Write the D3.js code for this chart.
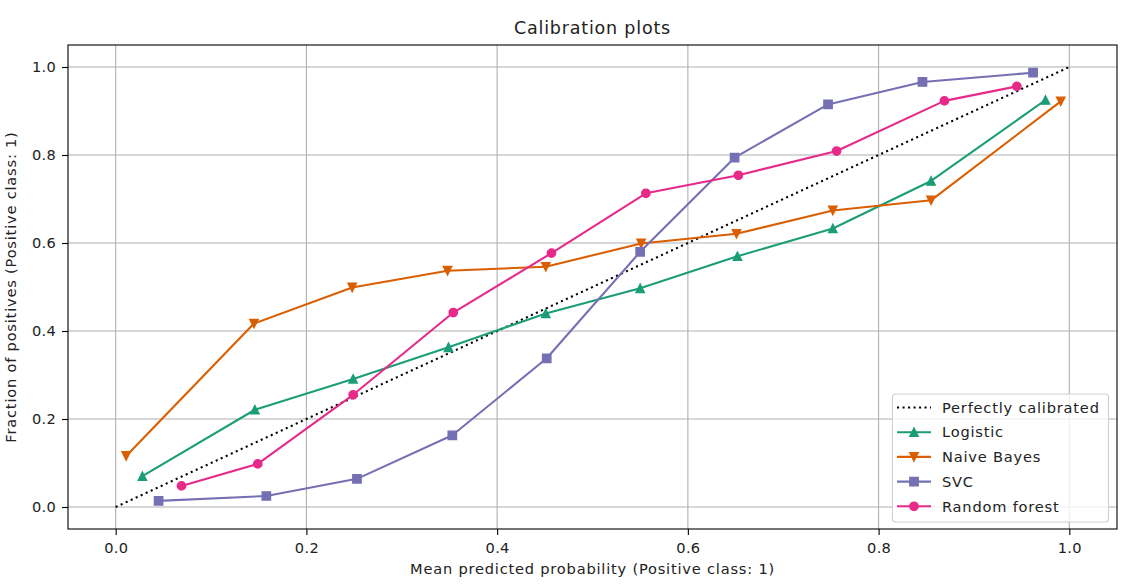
<!DOCTYPE html>
<html>
<head>
<meta charset="utf-8">
<script src="https://cdn.jsdelivr.net/npm/d3@7"></script>
<style>
  html, body { margin: 0; padding: 0; background: #fff; }
  svg { display: block; font-family: "DejaVu Sans", sans-serif; }
</style>
</head>
<body>
<svg id="chart" width="1129" height="586"></svg>
<script>
const xTicks = [0.0, 0.2, 0.4, 0.6, 0.8, 1.0];
const yTicks = [0.0, 0.2, 0.4, 0.6, 0.8, 1.0];
const tickLabels = ["0.0", "0.2", "0.4", "0.6", "0.8", "1.0"];

const perfectX = [0, 1];
const perfectY = [0, 1];

const logisticX = [0.028, 0.146, 0.249, 0.349, 0.451, 0.550, 0.652, 0.752, 0.855, 0.975];
const logisticY = [0.070, 0.221, 0.291, 0.363, 0.440, 0.497, 0.570, 0.633, 0.741, 0.925];

const nbX = [0.011, 0.145, 0.248, 0.348, 0.451, 0.551, 0.651, 0.752, 0.855, 0.991];
const nbY = [0.116, 0.417, 0.499, 0.537, 0.546, 0.599, 0.621, 0.674, 0.697, 0.922];

const svcX = [0.045, 0.158, 0.253, 0.353, 0.452, 0.550, 0.649, 0.747, 0.846, 0.962];
const svcY = [0.014, 0.025, 0.064, 0.163, 0.338, 0.580, 0.794, 0.915, 0.966, 0.987];

const rfX = [0.069, 0.149, 0.249, 0.354, 0.457, 0.556, 0.653, 0.756, 0.869, 0.945];
const rfY = [0.048, 0.098, 0.255, 0.442, 0.577, 0.713, 0.754, 0.809, 0.923, 0.956];

const seriesNames = ["Logistic", "Naive Bayes", "SVC", "Random forest"];
const seriesColors = ["#1b9e77", "#d95f02", "#7570b3", "#e7298a"];
const seriesMarkers = ["tri-up", "tri-down", "square", "circle"];
const seriesX = [logisticX, nbX, svcX, rfX];
const seriesY = [logisticY, nbY, svcY, rfY];

const title = "Calibration plots";
const xLabel = "Mean predicted probability (Positive class: 1)";
const yLabel = "Fraction of positives (Positive class: 1)";
const perfectLabel = "Perfectly calibrated";

const svg = d3.select("#chart");
const L = 68, R = 1117, T = 45, B = 529;
const x = d3.scaleLinear().domain([-0.05, 1.05]).range([L, R]);
const y = d3.scaleLinear().domain([-0.05, 1.05]).range([B, T]);

const fs = 14.6;
const ls = "0.8px";

// grid
const g = svg.append("g");
g.selectAll("line.gx").data(xTicks).enter().append("line")
  .attr("x1", d => x(d)).attr("x2", d => x(d)).attr("y1", T).attr("y2", B)
  .attr("stroke", "#b0b0b0").attr("stroke-width", 1.1);
g.selectAll("line.gy").data(yTicks).enter().append("line")
  .attr("y1", d => y(d)).attr("y2", d => y(d)).attr("x1", L).attr("x2", R)
  .attr("stroke", "#b0b0b0").attr("stroke-width", 1.1);

// axes
const xAxis = d3.axisBottom(x).tickValues(xTicks).tickFormat((d, i) => tickLabels[i]).tickSize(6).tickPadding(8);
const yAxis = d3.axisLeft(y).tickValues(yTicks).tickFormat((d, i) => tickLabels[i]).tickSize(6).tickPadding(6);
const gx = svg.append("g").attr("transform", `translate(0,${B})`).call(xAxis);
const gy = svg.append("g").attr("transform", `translate(${L},0)`).call(yAxis);
[gx, gy].forEach(a => {
  a.select(".domain").remove();
  a.selectAll(".tick line").attr("stroke", "#000").attr("stroke-width", 1.1);
  a.selectAll(".tick text").attr("font-size", fs).attr("fill", "#222").attr("font-family", "DejaVu Sans")
    .attr("letter-spacing", "0.3px");
});

// clip
svg.append("clipPath").attr("id", "clip").append("rect")
  .attr("x", L).attr("y", T).attr("width", R - L).attr("height", B - T);

const plot = svg.append("g").attr("clip-path", "url(#clip)");
const line = d3.line().x(d => x(d[0])).y(d => y(d[1]));

plot.append("path").datum(perfectX.map((v, i) => [v, perfectY[i]]))
  .attr("d", line).attr("fill", "none").attr("stroke", "#000").attr("stroke-width", 2.08)
  .attr("stroke-dasharray", "2.08,3.43");

function markerPath(type, s) {
  const h = s / 2;
  if (type === "tri-up") return `M0,${-h}L${-h},${h}L${h},${h}Z`;
  if (type === "tri-down") return `M0,${h}L${-h},${-h}L${h},${-h}Z`;
  if (type === "square") return `M${-h},${-h}H${h}V${h}H${-h}Z`;
  return d3.symbol(d3.symbolCircle, Math.PI * h * h)();
}
const ms = 8.33;

seriesNames.forEach((name, k) => {
  const pts = seriesX[k].map((v, i) => [v, seriesY[k][i]]);
  plot.append("path").datum(pts).attr("d", line).attr("fill", "none")
    .attr("stroke", seriesColors[k]).attr("stroke-width", 2.08).attr("stroke-linejoin", "round");
  plot.selectAll(null).data(pts).enter().append("path")
    .attr("transform", d => `translate(${x(d[0])},${y(d[1])})`)
    .attr("d", markerPath(seriesMarkers[k], ms))
    .attr("fill", seriesColors[k]).attr("stroke", seriesColors[k]).attr("stroke-width", 1.39)
    .attr("stroke-linejoin", "miter");
});

// spines
svg.append("rect").attr("x", L).attr("y", T).attr("width", R - L).attr("height", B - T)
  .attr("fill", "none").attr("stroke", "#000").attr("stroke-width", 1.1);

// title & labels
svg.append("text").attr("x", (L + R) / 2).attr("y", 33.5).attr("text-anchor", "middle")
  .attr("font-size", 17.5).attr("letter-spacing", ls).attr("fill", "#222").text(title);
svg.append("text").attr("x", (L + R) / 2).attr("y", 573.5).attr("text-anchor", "middle")
  .attr("font-size", fs).attr("letter-spacing", ls).attr("fill", "#222").text(xLabel);
svg.append("text").attr("transform", `translate(15.5,${(T + B) / 2}) rotate(-90)`)
  .attr("text-anchor", "middle").attr("font-size", fs).attr("letter-spacing", ls).attr("fill", "#222").text(yLabel);

// legend
const lg = svg.append("g");
lg.append("rect").attr("x", 892.5).attr("y", 394).attr("width", 216).attr("height", 128)
  .attr("rx", 3).attr("fill", "#fff").attr("fill-opacity", 0.8)
  .attr("stroke", "#d0d0d0").attr("stroke-width", 1.1);
const entries = [{ name: perfectLabel, color: "#000", marker: null, dotted: true }]
  .concat(seriesNames.map((n, k) => ({ name: n, color: seriesColors[k], marker: seriesMarkers[k] })));
entries.forEach((e, i) => {
  const cy = 407.5 + i * 24.7;
  lg.append("line").attr("x1", 897).attr("x2", 931).attr("y1", cy).attr("y2", cy)
    .attr("stroke", e.color).attr("stroke-width", 2.08)
    .attr("stroke-dasharray", e.dotted ? "2.08,3.43" : null);
  if (e.marker) {
    lg.append("path").attr("transform", `translate(914,${cy})`).attr("d", markerPath(e.marker, ms))
      .attr("fill", e.color).attr("stroke", e.color).attr("stroke-width", 1.39);
  }
  lg.append("text").attr("x", 942).attr("y", cy).attr("dy", "0.36em")
    .attr("font-size", fs).attr("letter-spacing", ls).attr("fill", "#222").text(e.name);
});
</script>
</body>
</html>
